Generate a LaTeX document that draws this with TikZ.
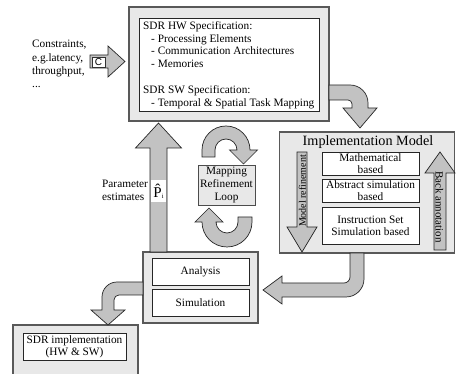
\documentclass[tikz,border=0pt]{standalone}
\usepackage{fontspec}
\setmainfont{Liberation Serif}
\setsansfont{Liberation Sans}
\definecolor{panelgray}{gray}{0.91}
\definecolor{arrowgray}{gray}{0.76}
\begin{document}
\begin{tikzpicture}[x=1pt,y=-1pt,
  outerbox/.style={draw=black!65, line width=1.1pt, fill=panelgray, inner sep=0pt},
  innerbox/.style={draw=black!85, line width=0.7pt, fill=white, align=center, inner sep=0pt},
  blockarrow/.style={draw=black!85, line width=0.7pt, fill=arrowgray, line join=miter},
  txt/.style={font=\fontsize{11.3}{12.9}\selectfont, inner sep=0pt}
]
\useasboundingbox (0,0) rectangle (456,374);
\clip (0,0) rectangle (456,374);

% ---- panels ----
\node[outerbox, minimum width=200, minimum height=114] (hwOuter) at (229,64) {};
\node[outerbox, minimum width=175, minimum height=121] (implOuter) at (367,192.5) {};
\node[outerbox, minimum width=115, minimum height=71] (anaOuter) at (200.5,287.5) {};
\node[outerbox, minimum width=125, minimum height=70] (sdrOuter) at (75.5,360) {};

% ---- specification ----
\node[innerbox, minimum width=180, minimum height=93] (hwSpec) at (229,64.5) {};
\node[txt, align=left, anchor=north west] (hwText) at (143,21) {%
SDR HW Specification:\\
\hspace*{8pt}- Processing Elements\\
\hspace*{8pt}- Communication Architectures\\
\hspace*{8pt}- Memories\\[12.9pt]
SDR SW Specification:\\
\hspace*{8pt}- Temporal \& Spatial Task Mapping};

% ---- constraints input ----
\node[txt, font=\fontsize{11.3}{13.3}\selectfont, align=left, anchor=west] (constr) at (32,64)
  {Constraints,\\e.g.latency,\\throughput,\\...};
\draw[blockarrow] (90,55) -- (108,55) -- (108,46) -- (125,61.5) -- (108,77) -- (108,68) -- (90,68) -- cycle;
\node[draw=black!80, fill=white, line width=0.5pt, minimum width=13, minimum height=10, inner sep=0pt,
  font=\sffamily\fontsize{10}{10}\selectfont] (cbox) at (98.5,62) {C};

% ---- implementation model ----
\node[inner sep=0pt, font=\fontsize{14.2}{14.2}\selectfont] (implTitle) at (368,142) {Implementation Model};
\node[innerbox, txt, font=\fontsize{11.3}{11.8}\selectfont, minimum width=97, minimum height=23] (math) at (370.5,163.5) {Mathematical\\based};
\node[innerbox, txt, font=\fontsize{11.3}{11.8}\selectfont, minimum width=97, minimum height=23] (abstr) at (370.5,190.5) {Abstract simulation\\based};
\node[innerbox, txt, font=\fontsize{11.3}{12}\selectfont, minimum width=97, minimum height=37] (iss) at (370.5,225.5) {Instruction Set\\Simulation based};

\draw[blockarrow] (297,152) -- (307,152) -- (307,227) -- (317,227) -- (302,252) -- (287,227) -- (297,227) -- cycle;
\node[rotate=90, inner sep=0pt, font=\fontsize{10}{10}\selectfont] (mref) at (302.5,191) {Model refinement};
\draw[blockarrow] (434,250) -- (434,173) -- (425,173) -- (440,152) -- (455,173) -- (446,173) -- (446,250) -- cycle;
\node[rotate=-90, inner sep=0pt, font=\fontsize{11}{11}\selectfont] (bann) at (439.5,207) {Back annotation};

% ---- analysis ----
\node[innerbox, txt, minimum width=97, minimum height=27] (ana) at (200.5,271.5) {Analysis};
\node[innerbox, txt, minimum width=97, minimum height=27] (sim) at (200.5,302.5) {Simulation};

% ---- implementation result ----
\node[innerbox, txt, font=\fontsize{11.3}{12}\selectfont, minimum width=103, minimum height=27] (sdr) at (74.5,346.5) {SDR implementation\\(HW \& SW)};

% ---- flow arrows ----
% specification -> implementation model
\draw[blockarrow] (329,85) -- (350,85) .. controls (360,85) and (368,93) .. (368,103) -- (368,108) -- (377,108)
  -- (360,128) -- (343,108) -- (352,108) -- (352,104) .. controls (352,101.8) and (350.2,100) .. (348,100) -- (329,100) -- cycle;
% implementation model -> analysis
\draw[blockarrow] (350,253) -- (364,253) -- (364,279) .. controls (364,288.9) and (355.9,297) .. (346,297) -- (282,297)
  -- (282,304) -- (263,290) -- (282,276) -- (282,283) -- (344,283) .. controls (347.3,283) and (350,280.3) .. (350,277) -- cycle;
% analysis -> implementation
\draw[blockarrow] (143,282) -- (117,282) .. controls (108.7,282) and (102,288.7) .. (102,297) -- (102,310) -- (91,310)
  -- (108,325) -- (125,310) -- (114,310) -- (114,300) .. controls (114,297.2) and (116.2,295) .. (119,295) -- (143,295) -- cycle;
% parameter estimates back to the specification
\draw[blockarrow] (150,252) -- (150,148) -- (135.5,148) -- (158.5,123) -- (181.5,148) -- (167,148) -- (167,252) -- cycle;
\node[fill=white, minimum width=15.5, minimum height=22, inner sep=0pt] (phat) at (158.5,191)
  {{\fontsize{15}{15}\selectfont\^{P}}\raisebox{-1pt}{\fontsize{6.5}{6.5}\selectfont i}};
\node[txt, align=left, anchor=west] (param) at (102,190.5) {Parameter\\estimates};

% ---- mapping refinement loop ----
\draw[blockarrow] (202,157) -- (202,150) arc[start angle=180, end angle=360, radius=24] -- (257.5,150) -- (243.5,164)
  -- (229.5,150) -- (237,150) arc[start angle=360, end angle=180, radius=11] -- (215,157) -- cycle;
\draw[blockarrow] (252,217) -- (252,222) arc[start angle=0, end angle=180, radius=25] -- (195,222) -- (209,208)
  -- (223,222) -- (216,222) arc[start angle=180, end angle=0, radius=11] -- (238,217) -- cycle;
\node[txt, draw=black!70, fill=panelgray, line width=0.7pt, minimum width=57, minimum height=40, align=center] (mapbox) at (226.5,185) {Mapping\\Refinement\\Loop};
\end{tikzpicture}
\end{document}
